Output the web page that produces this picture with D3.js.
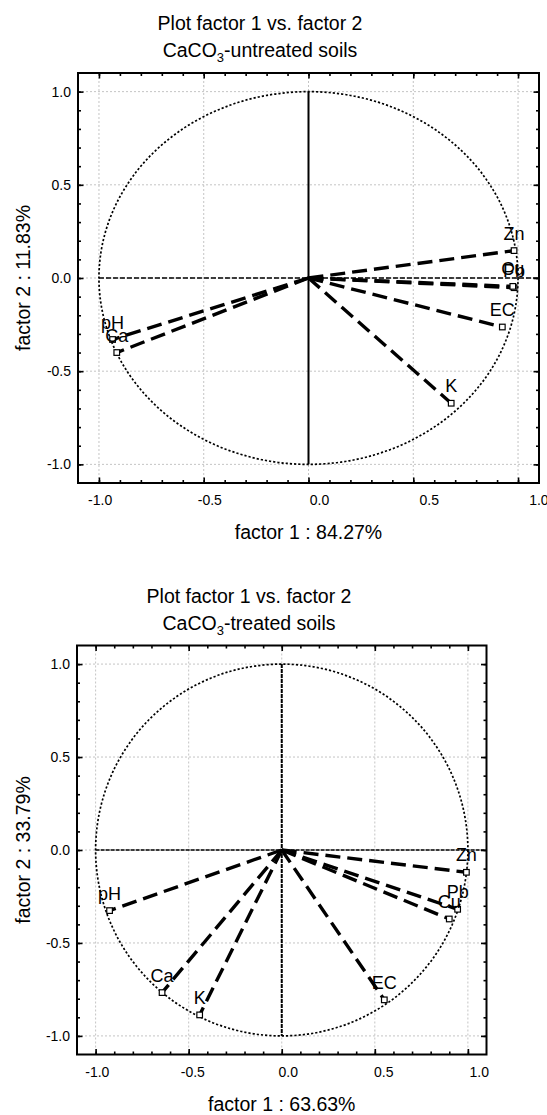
<!DOCTYPE html>
<html><head><meta charset="utf-8">
<script src="https://cdn.jsdelivr.net/npm/d3@7"></script>
<style>
html,body{margin:0;padding:0;background:#fff;}
svg{display:block;font-family:"Liberation Sans",Arial,Helvetica,sans-serif;}
</style></head><body>
<svg id="chart" width="547" height="1115"></svg>
<script>
// ---------- data ----------
const variables = ["pH", "Ca", "K", "EC", "Zn", "Pb", "Cu"];
const untreatedF1 = [-0.935, -0.915, 0.681, 0.925, 0.981, 0.981, 0.975];
const untreatedF2 = [-0.330, -0.400, -0.672, -0.263, 0.147, -0.052, -0.045];
const treatedF1 = [-0.925, -0.643, -0.441, 0.551, 0.992, 0.945, 0.900];
const treatedF2 = [-0.326, -0.767, -0.887, -0.806, -0.120, -0.319, -0.371];
const tickValues = [-1, -0.5, 0, 0.5, 1];
const tickLabels = ["-1.0", "-0.5", "0.0", "0.5", "1.0"];
const minorTicks = [-1, -0.9, -0.8, -0.7, -0.6, -0.5, -0.4, -0.3, -0.2, -0.1, 0, 0.1, 0.2, 0.3, 0.4, 0.5, 0.6, 0.7, 0.8, 0.9, 1];
const titleLine1 = "Plot factor 1 vs. factor 2";
const subtitles = [["CaCO", "3", "-untreated soils"], ["CaCO", "3", "-treated soils"]];
const xTitles = ["factor 1 : 84.27%", "factor 1 : 63.63%"];
const yTitles = ["factor 2 : 11.83%", "factor 2 : 33.79%"];

// ---------- layout ----------
const panels = [
  {left: 78, right: 539, top: 73, bottom: 483, f1: untreatedF1, f2: untreatedF2, sub: subtitles[0], xt: xTitles[0], yt: yTitles[0],
   titleX: 260, titleY: 30, vDash: null, hDash: "5,2", labStretch: 1.047, labShift: 10.5},
  {left: 77, right: 486.5, top: 645.5, bottom: 1054.5, f1: treatedF1, f2: treatedF2, sub: subtitles[1], xt: xTitles[1], yt: yTitles[1],
   titleX: 249, titleY: 603, vDash: "4,1", hDash: "4,1", labStretch: 1.026, labShift: 6}
];

const svg = d3.select("#chart");
const fmt = v => tickLabels[tickValues.indexOf(v)];

function drawPanel(p) {
  const g = svg.append("g");
  const x = d3.scaleLinear().domain([-1.1, 1.1]).range([p.left, p.right]);
  const y = d3.scaleLinear().domain([-1.1, 1.1]).range([p.bottom, p.top]);

  // grid
  g.selectAll(".gx").data(tickValues).join("line")
    .attr("x1", d => x(d)).attr("x2", d => x(d)).attr("y1", p.top).attr("y2", p.bottom)
    .attr("stroke", "#c4c4c4").attr("stroke-width", 1).attr("stroke-dasharray", "2,2");
  g.selectAll(".gy").data(tickValues).join("line")
    .attr("y1", d => y(d)).attr("y2", d => y(d)).attr("x1", p.left).attr("x2", p.right)
    .attr("stroke", "#c4c4c4").attr("stroke-width", 1).attr("stroke-dasharray", "2,2");

  // unit circle
  g.append("ellipse")
    .attr("cx", x(0)).attr("cy", y(0)).attr("rx", x(1) - x(0)).attr("ry", y(0) - y(1))
    .attr("fill", "none").attr("stroke", "#000").attr("stroke-width", 1.7).attr("stroke-dasharray", "2.2,2");

  // axes through origin
  g.append("line").attr("x1", x(-1)).attr("x2", x(1.1)).attr("y1", y(0)).attr("y2", y(0))
    .attr("stroke", "#000").attr("stroke-width", 1.6).attr("stroke-dasharray", p.hDash);
  g.append("line").attr("x1", x(0)).attr("x2", x(0)).attr("y1", y(1)).attr("y2", y(-1))
    .attr("stroke", "#000").attr("stroke-width", 2).attr("stroke-dasharray", p.vDash);

  const pts = variables.map((v, i) => ({name: v, a: p.f1[i], b: p.f2[i]}));

  // vectors
  g.selectAll(".vec").data(pts).join("line")
    .attr("x1", x(0)).attr("y1", y(0)).attr("x2", d => x(d.a)).attr("y2", d => y(d.b))
    .attr("stroke", "#000").attr("stroke-width", 3.4).attr("stroke-dasharray", "15,7");

  // markers
  g.selectAll(".mk").data(pts).join("rect")
    .attr("x", d => x(d.a) - 2.8).attr("y", d => y(d.b) - 2.8).attr("width", 5.6).attr("height", 5.6)
    .attr("fill", "#fff").attr("stroke", "#000").attr("stroke-width", 1.2);

  // point labels
  g.selectAll(".lb").data(pts).join("text")
    .attr("x", d => x(d.a)).attr("y", d => y(d.b) - 11)
    .attr("text-anchor", "middle").attr("font-size", 18).attr("fill", "#000")
    .text(d => d.name);

  // frame
  g.append("rect").attr("x", p.left).attr("y", p.top).attr("width", p.right - p.left).attr("height", p.bottom - p.top)
    .attr("fill", "none").attr("stroke", "#000").attr("stroke-width", 2);

  // ticks
  function styleAxis(sel) {
    sel.select(".domain").remove();
    sel.selectAll(".tick line").attr("stroke", "#000").attr("stroke-width", 1.6);
    sel.selectAll(".tick text").attr("fill", "#000").attr("font-size", 14)
      .attr("font-family", "Liberation Sans, Arial, sans-serif");
  }
  [[d3.axisBottom, 0, p.bottom], [d3.axisTop, 0, p.top]].forEach(([ax, tx, ty]) => {
    g.append("g").attr("transform", `translate(${tx},${ty})`)
      .call(ax(x).tickValues(minorTicks).tickSizeInner(-3).tickSizeOuter(0).tickFormat(""))
      .call(styleAxis);
  });
  [[d3.axisLeft, p.left], [d3.axisRight, p.right]].forEach(([ax, tx]) => {
    g.append("g").attr("transform", `translate(${tx},0)`)
      .call(ax(y).tickValues(minorTicks).tickSizeInner(-3).tickSizeOuter(0).tickFormat(""))
      .call(styleAxis);
  });
  const xb = g.append("g").attr("transform", `translate(0,${p.bottom})`)
    .call(d3.axisBottom(x).tickValues(tickValues).tickSizeInner(-5.5).tickSizeOuter(0).tickPadding(12.5).tickFormat(fmt))
    .call(styleAxis);
  // label positions follow the (slightly wider) text layout of the original
  xb.selectAll(".tick text").attr("x", d => (x(d) - x(0)) * (p.labStretch - 1) + p.labShift);
  g.append("g").attr("transform", `translate(0,${p.top})`)
    .call(d3.axisTop(x).tickValues(tickValues).tickSizeInner(-5.5).tickSizeOuter(0).tickFormat(""))
    .call(styleAxis);
  g.append("g").attr("transform", `translate(${p.left},0)`)
    .call(d3.axisLeft(y).tickValues(tickValues).tickSizeInner(-5.5).tickSizeOuter(0).tickPadding(7).tickFormat(fmt))
    .call(styleAxis);
  g.append("g").attr("transform", `translate(${p.right},0)`)
    .call(d3.axisRight(y).tickValues(tickValues).tickSizeInner(-5.5).tickSizeOuter(0).tickFormat(""))
    .call(styleAxis);

  // titles
  g.append("text").attr("x", p.titleX).attr("y", p.titleY).attr("text-anchor", "middle")
    .attr("font-size", 19.5).text(titleLine1);
  const t2 = g.append("text").attr("x", p.titleX).attr("y", p.titleY + 27).attr("text-anchor", "middle").attr("font-size", 19.5);
  t2.append("tspan").text(p.sub[0]);
  t2.append("tspan").attr("dy", 5).attr("font-size", 13).text(p.sub[1]);
  t2.append("tspan").attr("dy", -5).text(p.sub[2]);

  g.append("text").attr("x", (p.left + p.right) / 2).attr("y", p.bottom + 56)
    .attr("text-anchor", "middle").attr("font-size", 19.5).text(p.xt);
  g.append("text").attr("transform", `translate(30,${(p.top + p.bottom) / 2}) rotate(-90)`)
    .attr("text-anchor", "middle").attr("font-size", 19.5).text(p.yt);
}

panels.forEach(drawPanel);
</script>
</body></html>
